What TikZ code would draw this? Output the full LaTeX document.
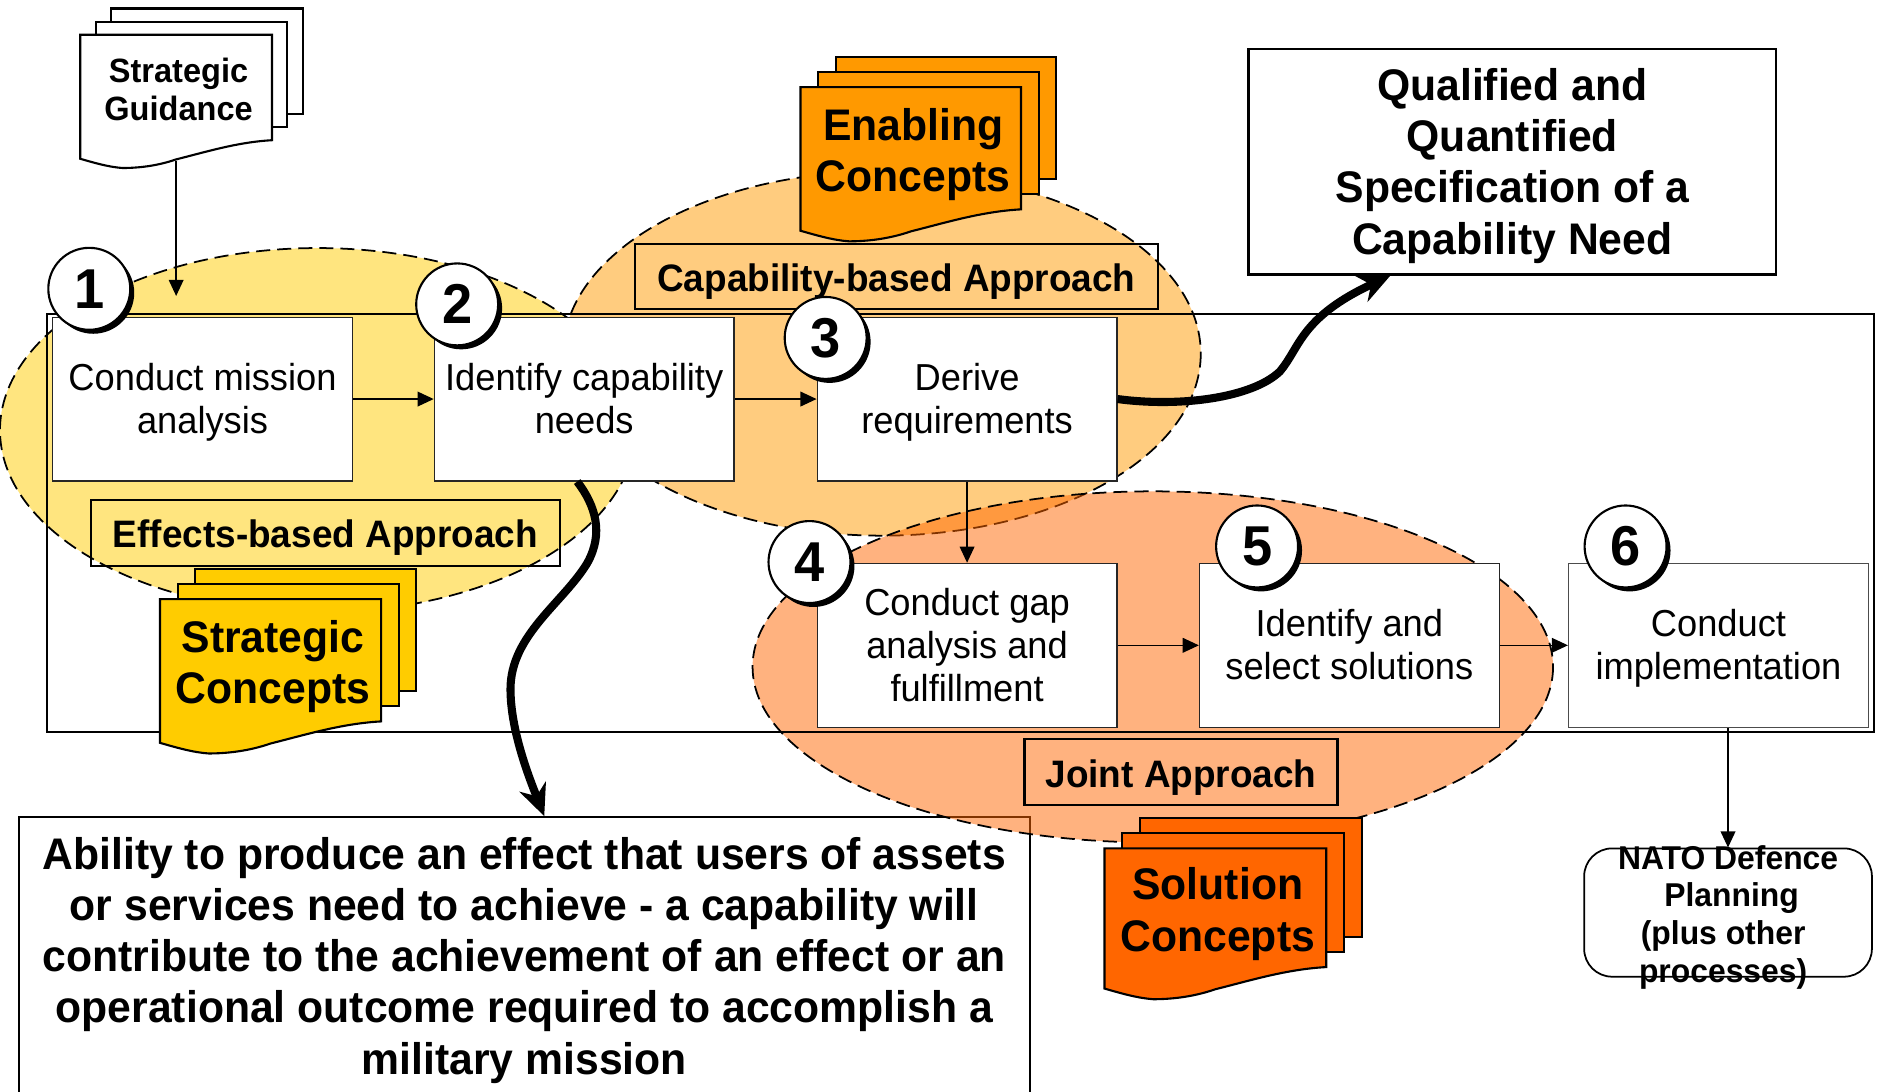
\documentclass[tikz,border=0pt]{standalone}
\usepackage{fontspec}
\setmainfont[FakeStretch=0.965]{Liberation Sans}
\usetikzlibrary{arrows.meta,shadows}

\definecolor{yellowdoc}{HTML}{FFCC00}
\definecolor{orangedoc}{HTML}{FF9900}
\definecolor{reddoc}{HTML}{FF6600}

\newcommand{\topstrut}{\rule{0pt}{\dimexpr\ht\strutbox+.32em\relax}}
\newcommand{\lift}{\rule{0pt}{1.04em}}

\tikzset{
    struts/.style={execute at begin node=\topstrut, execute at end node=\strut},
    procbox/.style={draw=black!85, fill=white, line width=0.35pt, minimum width=3cm, minimum height=1.64cm, align=center, inner sep=0pt, struts, font=\fontsize{10.7}{12.3}\selectfont},
    numcircle/.style={circle, draw, fill=white, line width=0.6pt, minimum size=0.82cm, inner sep=0pt, font=\fontsize{16}{16}\selectfont\bfseries, general shadow={fill=black, shadow xshift=0.04cm, shadow yshift=-0.04cm}},
    apprlabel/.style={draw, line width=0.6pt, inner sep=0pt, struts, font=\fontsize{10.9}{12.4}\selectfont\bfseries},
    bigtext/.style={draw, fill=white, line width=0.6pt, align=center, inner sep=0pt, struts, font=\fontsize{12.6}{14.6}\selectfont\bfseries},
    approach/.style={draw, dashed, dash pattern=on 4pt off 2pt, line width=0.5pt, fill opacity=0.5},
    thinarrow/.style={->, line width=0.4pt},
    thickarrow/.style={-{Stealth[length=9pt,width=8pt]}, line width=2.3pt},
    smalldoc/.style={struts, font=\fontsize{9.6}{10.9}\selectfont\bfseries},
    bigdoc/.style={struts, font=\fontsize{12.6}{14.6}\selectfont\bfseries}
}

% x, y = top left of the front sheet, w, h = its size, then offset of the last sheet
\newcommand{\docstack}[7]{
    \draw [fill=#7, line width=0.6pt] ({#2+#6},{#3-0.86*#6}) rectangle ++(#4,#5);
    \draw [fill=#7, line width=0.6pt] ({#2+0.5*#6},{#3-0.43*#6}) rectangle ++(#4,#5);
    \draw [fill=#7, line width=0.6pt] (#2,#3) -- ({#2+#4},#3) -- ({#2+#4},{#3+#5})
        .. controls ({#2+0.82*#4},{#3+#5+0.01*#4}) and ({#2+0.66*#4},{#3+#5+0.06*#4}) .. ({#2+0.5*#4},{#3+#5+0.1*#4})
        .. controls ({#2+0.4*#4},{#3+#5+0.135*#4}) and ({#2+0.3*#4},{#3+#5+0.145*#4}) .. ({#2+0.22*#4},{#3+#5+0.145*#4})
        .. controls ({#2+0.15*#4},{#3+#5+0.14*#4}) and ({#2+0.08*#4},{#3+#5+0.12*#4}) .. (#2,{#3+#5+0.097*#4}) -- cycle;
    \coordinate (#1) at ({#2+0.5*#4+2},{#3+0.5*#5+2});
}

\begin{document}
\begin{tikzpicture}[x=0.012cm, y=-0.012cm, >={Triangle[length=4.6pt,width=4.2pt]}]
    \clip (0,0) rectangle (1568,911);

    % text boxes at the top and the bottom
    \node (ability) at (437.5,798) [bigtext, minimum width=10.116cm, minimum height=2.784cm] {\lift Ability to produce an effect that users of assets\\or services need to achieve - a capability will\\contribute to the achievement of an effect or an\\operational outcome required to accomplish a\\military mission};
    \node (qualified) at (1262,135) [bigtext, minimum width=5.28cm, minimum height=2.256cm] {\lift Qualified and\\Quantified\\Specification of a\\Capability Need};

    % the three approaches
    \draw [approach, fill=yellowdoc] (265,359) ellipse (265 and 152);
    \draw [approach, fill=orangedoc] (736,295) ellipse (266 and 152);
    \draw [approach, fill=reddoc] (962,556.5) ellipse (334 and 146.5);

    \draw [line width=0.7pt] (39,262) rectangle (1564,611);

    \node (effects) at (271.5,444.5) [apprlabel, minimum width=4.692cm, minimum height=0.66cm] {Effects-based Approach};
    \node (capability) at (748,231) [apprlabel, minimum width=5.232cm, minimum height=0.648cm] {Capability-based Approach};
    \node (joint) at (985.5,644.5) [apprlabel, minimum width=3.132cm, minimum height=0.66cm] {Joint Approach};

    % steps
    \node (box1) at (169,333) [procbox] {\lift Conduct mission\\analysis};
    \node (box2) at (487.5,333) [procbox] {\lift Identify capability\\needs};
    \node (box3) at (807,333) [procbox] {\lift Derive\\requirements};
    \node (box4) at (807,538.5) [procbox] {\lift Conduct gap\\analysis and\\fulfillment};
    \node (box5) at (1126,538.5) [procbox] {\lift Identify and\\select solutions};
    \node (box6) at (1434,538.5) [procbox, draw=black!70] {\lift Conduct\\implementation};

    \node (nato) at (1442,761.5) [draw, rounded corners=0.28cm, line width=0.5pt, minimum width=2.88cm, minimum height=1.284cm] {};
    \node (natotext) at (1440,763) [align=center, inner sep=0pt, struts, font=\fontsize{9.4}{10.75}\selectfont\bfseries] {\lift\hspace*{0.05cm}NATO Defence\\\hspace*{0.12cm}Planning\\\hspace*{-0.05cm}(plus other\\\hspace*{-0.05cm}processes)};

    % document stacks
    \docstack{guidancepos}{67}{29}{160}{88}{25.5}{white}
    \node (guidance) at (guidancepos) [smalldoc, align=center, inner sep=0pt] {\lift Strategic\\Guidance};
    \docstack{enablingpos}{668}{72.7}{184}{102}{29.5}{orangedoc}
    \node (enabling) at (enablingpos) [bigdoc, align=center, inner sep=0pt] {\lift Enabling\\Concepts};
    \docstack{strategicpos}{133.5}{500}{184.5}{102}{29.5}{yellowdoc}
    \node (strategic) at (strategicpos) [bigdoc, align=center, inner sep=0pt] {\lift Strategic\\Concepts};
    \docstack{solutionpos}{921.7}{708}{185}{99}{29.5}{reddoc}
    \node (solution) at (solutionpos) [bigdoc, align=center, inner sep=0pt] {\lift Solution\\Concepts};

    \coordinate (guidancefoot) at (147,134);
    \coordinate (guidancetip) at (147,247);

    % connectors
    \draw [thinarrow] (guidancefoot) -- (guidancetip);
    \draw [thinarrow] (box1) -- (box2);
    \draw [thinarrow] (box2) -- (box3);
    \draw [thinarrow] (box3) -- (box4);
    \draw [thinarrow] (box4) -- (box5);
    \draw [thinarrow] (box5) -- (box6);
    \draw [thinarrow] (nato.north |- box6.south) -- (nato.north);

    \draw [thickarrow] ([xshift=-0.07cm]box2.south) .. controls (497,422) and (504,445) .. (490,470) .. controls (470,503) and (426,530) .. (426,575) .. controls (426,610) and (442,650) .. ([xshift=0.2cm]ability.north);
    \draw [thickarrow] (box3.east) .. controls (985,340) and (1045,332) .. (1068,310) .. controls (1085,290) and (1085,265) .. ([xshift=-1.22cm]qualified.south);

    % step numbers
    \node (num1) at (74.5,241) [numcircle] {1};
    \node (num2) at (381.5,254) [numcircle] {2};
    \node (num3) at (689,282) [numcircle] {3};
    \node (num4) at (675.5,469) [numcircle] {4};
    \node (num5) at (1049,456) [numcircle] {5};
    \node (num6) at (1356.5,456) [numcircle] {6};
\end{tikzpicture}
\end{document}
